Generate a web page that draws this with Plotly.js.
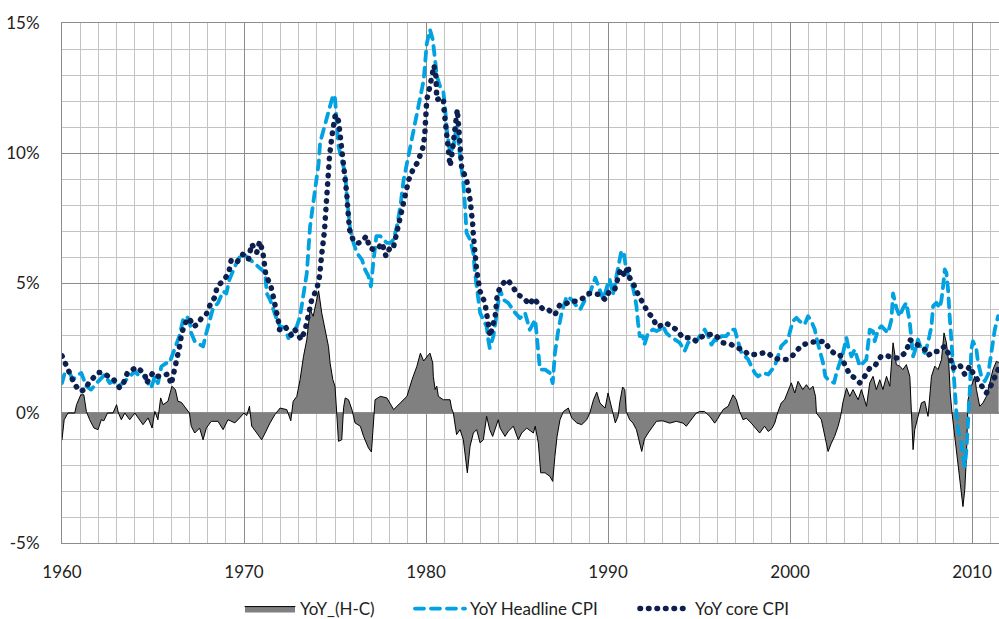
<!DOCTYPE html>
<html>
<head>
<meta charset="utf-8">
<script src="https://cdn.plot.ly/plotly-3.0.1.min.js"></script>
<style>
  html, body { margin: 0; padding: 0; background: #fff; }
  #chart { width: 999px; height: 619px; }
  .js-line { stroke-linecap: round; stroke-linejoin: round; }
</style>
</head>
<body>
<div id="chart"></div>
<script>
// ---- Data ----
const headlineYears = [1960.0,1960.15,1960.42,1960.6,1960.88,1961.06,1961.34,1961.6,1961.9,1962.07,1962.34,1962.62,1962.8,1963.08,1963.35,1963.72,1964.0,1964.27,1964.54,1964.73,1964.9,1965.1,1965.27,1965.46,1965.73,1965.9,1966.1,1966.28,1966.47,1966.65,1966.83,1967.0,1967.1,1967.29,1967.56,1967.75,1967.93,1968.1,1968.3,1968.57,1968.85,1969.03,1969.2,1969.5,1969.76,
1970.0,1970.25,1970.5,1970.8,1971.16,1971.25,1971.43,1971.8,1971.98,1972.26,1972.44,1972.62,1972.9,1973.08,1973.27,1973.45,1973.63,1973.72,1973.9,1974.1,1974.18,1974.37,1974.55,1974.73,1974.9,1975.0,1975.1,1975.19,1975.37,1975.56,1975.65,1975.74,1975.83,1976.02,1976.2,1976.48,1976.66,1976.84,1976.97,1977.12,1977.27,1977.49,1977.67,1977.85,1978.04,1978.22,1978.4,1978.59,1978.77,1978.95,1979.14,1979.32,1979.5,1979.69,1979.87,
1980.04,1980.22,1980.37,1980.5,1980.6,1980.77,1980.95,1981.04,1981.14,1981.32,1981.5,1981.68,1981.77,1981.87,1981.96,1982.05,1982.14,1982.23,1982.42,1982.6,1982.69,1982.82,1982.97,1983.15,1983.33,1983.42,1983.5,1983.7,1983.88,1984.07,1984.25,1984.52,1984.9,1985.16,1985.44,1985.7,1986.0,1986.17,1986.26,1986.54,1986.8,1986.96,1987.08,1987.27,1987.45,1987.73,1988.0,1988.28,1988.46,1988.74,1989.0,1989.3,1989.47,1989.74,
1990.0,1990.09,1990.27,1990.46,1990.6,1990.73,1990.86,1991.0,1991.19,1991.37,1991.47,1991.56,1991.65,1991.74,1991.92,1992.0,1992.2,1992.47,1992.66,1992.84,1993.02,1993.2,1993.39,1993.66,1993.94,1994.21,1994.4,1994.67,1994.85,1995.04,1995.31,1995.5,1995.68,1995.86,1996.04,1996.23,1996.5,1996.78,1996.96,1997.14,1997.33,1997.51,1997.7,1997.87,1998.06,1998.24,1998.52,1998.8,1998.98,1999.16,1999.34,1999.52,1999.7,1999.89,
2000.0,2000.16,2000.35,2000.53,2000.8,2000.99,2001.17,2001.36,2001.45,2001.63,2001.81,2001.94,2002.09,2002.27,2002.42,2002.55,2002.73,2002.91,2003.1,2003.19,2003.37,2003.55,2003.83,2004.0,2004.19,2004.38,2004.56,2004.65,2004.84,2005.02,2005.2,2005.38,2005.57,2005.66,2005.84,2006.03,2006.21,2006.39,2006.58,2006.67,2006.76,2006.85,2007.03,2007.22,2007.4,2007.58,2007.77,2007.86,2008.04,2008.22,2008.32,2008.41,2008.5,2008.59,2008.68,2008.77,2008.86,2008.96,2009.05,2009.14,2009.23,2009.41,2009.5,2009.6,2009.69,2009.78,2009.87,2009.96,2010.05,2010.24,2010.33,2010.51,2010.7,2010.88,2011.06,2011.25,2011.43];
const headlineCPI = [1.15,1.54,1.54,1.28,1.47,1.54,1.03,0.9,1.15,1.28,1.47,1.15,1.22,1.03,1.15,1.41,1.6,1.41,1.41,1.15,0.96,1.41,1.15,1.79,1.92,1.92,2.31,2.56,3.0,3.59,3.72,3.59,3.08,2.76,2.63,2.56,3.08,3.59,4.04,4.23,4.68,4.6,5.13,5.64,6.0,
6.1,5.95,5.8,5.6,5.4,4.6,4.36,3.6,3.33,3.27,2.88,3.08,3.33,3.72,4.5,5.38,7.18,7.7,8.6,9.6,10.4,10.9,11.4,11.9,12.24,12.1,11.3,10.26,9.74,9.23,8.33,7.7,7.05,6.54,6.15,5.9,5.5,5.26,4.87,5.9,6.8,6.8,6.67,6.54,6.54,6.67,7.18,7.95,8.97,9.6,10.26,10.9,11.54,12.18,12.8,
14.2,14.74,14.36,13.6,12.95,12.56,12.37,11.8,10.9,10.0,10.26,11.0,10.5,9.87,9.36,8.85,7.95,6.92,6.67,6.15,5.38,4.6,3.85,3.59,3.33,2.82,2.5,2.95,3.85,4.74,4.36,4.23,3.85,3.65,3.85,3.2,3.59,2.3,1.67,1.67,1.54,1.15,2.3,3.2,3.85,4.49,4.36,4.1,3.97,4.36,4.6,5.2,4.87,4.36,
5.0,5.14,4.56,5.27,5.66,6.23,6.17,5.53,5.14,4.82,4.5,4.11,3.47,2.96,2.96,2.63,3.08,3.21,3.15,3.21,3.34,3.08,2.96,2.83,2.7,2.38,2.7,2.83,2.76,2.96,3.21,2.96,2.63,2.83,2.76,2.96,2.96,3.21,3.21,2.76,2.31,2.19,2.06,1.8,1.54,1.41,1.54,1.48,1.67,1.8,2.19,2.57,2.7,2.83,
3.14,3.53,3.66,3.53,3.4,3.72,3.53,3.21,2.89,2.44,1.93,1.41,1.28,1.22,1.16,1.54,1.93,2.31,2.89,2.57,2.18,2.44,1.8,1.93,2.05,3.21,3.14,2.76,3.21,3.34,3.21,3.08,3.59,4.6,4.04,3.72,4.04,4.24,3.47,2.82,2.18,2.37,2.82,2.44,2.31,2.7,3.34,4.11,4.24,4.04,4.36,4.88,5.52,5.39,4.75,3.72,2.7,1.67,0.77,0.0,-0.64,-1.16,-1.67,-2.05,-1.41,-0.51,0.77,2.44,2.76,2.44,1.93,1.41,1.22,1.48,2.44,3.21,3.72];

const coreYears = [1960.0,1960.26,1960.51,1960.7,1961.0,1961.25,1961.5,1961.8,1962.0,1962.25,1962.5,1962.85,1963.17,1963.4,1963.6,1964.1,1964.55,1964.65,1965.0,1965.27,1965.55,1965.82,1966.0,1966.2,1966.32,1966.47,1966.56,1966.74,1967.0,1967.2,1967.45,1967.66,1967.93,1968.13,1968.4,1968.53,1968.86,1969.16,1969.3,1969.63,1969.93,
1970.24,1970.42,1970.7,1970.86,1971.03,1971.2,1971.34,1971.47,1971.6,1971.76,1971.9,1971.95,1972.26,1972.5,1972.62,1972.8,1973.14,1973.36,1973.72,1974.0,1974.15,1974.27,1974.37,1974.42,1974.46,1974.5,1974.55,1974.6,1974.64,1974.7,1974.83,1975.0,1975.1,1975.2,1975.28,1975.37,1975.47,1975.52,1975.61,1975.65,1975.69,1975.74,1975.8,1976.02,1976.29,1976.48,1976.72,1976.9,1977.16,1977.39,1977.58,1977.8,1977.98,1978.18,1978.31,1978.5,1978.68,1978.86,1979.05,1979.28,1979.5,1979.69,1979.85,1979.93,1979.97,
1980.04,1980.18,1980.31,1980.44,1980.55,1980.59,1980.77,1980.95,1980.99,1981.04,1981.14,1981.32,1981.41,1981.5,1981.65,1981.72,1981.78,1981.87,1981.96,1982.23,1982.42,1982.5,1982.56,1982.6,1982.64,1982.69,1982.78,1982.88,1982.97,1983.24,1983.33,1983.42,1983.52,1983.8,1983.92,1984.16,1984.47,1984.76,1984.98,1985.44,1985.7,1985.9,1986.17,1986.45,1986.72,1987.08,1987.36,1987.63,1987.9,1988.28,1988.64,1988.92,1989.19,1989.56,1989.84,
1990.07,1990.37,1990.68,1990.92,1991.1,1991.19,1991.37,1991.56,1991.74,1991.96,1992.2,1992.47,1992.66,1992.84,1993.11,1993.3,1993.57,1993.75,1994.12,1994.58,1994.85,1995.04,1995.4,1995.86,1996.32,1996.78,1997.05,1997.42,1997.7,1998.15,1998.52,1998.8,1999.07,1999.43,1999.8,
2000.07,2000.26,2000.62,2001.08,2001.54,2001.9,2002.18,2002.45,2002.73,2003.0,2003.28,2003.55,2003.83,2004.1,2004.38,2004.65,2005.0,2005.3,2005.66,2006.03,2006.39,2006.58,2006.85,2007.12,2007.4,2007.58,2007.86,2008.13,2008.5,2008.77,2008.96,2009.32,2009.6,2009.87,2010.05,2010.33,2010.6,2010.79,2011.06,2011.25,2011.43];
const coreCPI = [2.2,1.83,1.47,1.09,0.83,0.9,1.19,1.45,1.56,1.54,1.41,1.28,0.96,1.19,1.56,1.76,1.5,1.15,1.56,1.41,1.44,1.5,1.1,1.69,2.15,2.59,3.0,3.44,3.65,3.33,3.4,3.65,3.8,4.15,4.46,4.88,5.08,5.38,5.9,5.82,6.1,
5.9,6.5,6.17,6.6,6.2,5.3,5.06,4.9,4.5,4.04,3.5,3.2,3.33,3.08,2.97,3.2,2.82,3.2,4.36,4.77,5.26,6.1,6.54,7.0,7.44,7.9,8.4,8.85,9.3,9.9,10.64,11.41,11.47,11.2,10.7,10.2,9.74,9.3,8.85,8.4,7.95,7.5,7.05,6.6,6.54,6.6,6.8,6.35,6.28,6.35,6.54,6.03,6.3,6.28,6.67,7.18,7.95,8.46,8.97,9.36,9.6,9.94,10.26,10.7,11.4,
12.05,12.46,12.92,13.36,12.92,12.05,12.1,12.1,11.67,11.28,10.5,9.5,9.87,10.58,11.28,11.67,11.28,10.32,9.42,8.97,8.2,7.8,7.3,6.86,6.4,5.96,5.5,5.06,4.68,4.23,3.85,3.33,2.95,3.72,4.6,4.94,5.13,4.87,4.6,4.36,4.17,4.42,4.17,3.97,3.97,3.78,4.17,4.17,4.3,4.3,4.42,4.6,4.6,4.55,4.36,
4.68,4.76,5.53,5.27,5.66,5.2,5.01,4.69,4.43,4.11,3.86,3.66,3.34,3.34,3.47,3.41,3.28,3.21,2.89,2.89,2.76,2.89,3.02,3.02,2.7,2.63,2.51,2.44,2.25,2.25,2.31,2.31,2.12,2.06,2.06,
2.15,2.31,2.59,2.72,2.72,2.76,2.44,2.28,2.25,1.9,1.48,1.35,1.16,1.41,1.73,1.8,2.18,2.21,2.12,2.12,2.37,2.82,2.72,2.57,2.44,2.21,2.37,2.37,2.57,2.18,1.73,1.86,1.48,1.8,1.54,1.22,0.9,0.77,1.09,1.41,1.67];

const gapYears = [1960.0,1960.12,1960.33,1960.7,1960.8,1961.03,1961.2,1961.34,1961.52,1961.76,1961.98,1962.16,1962.3,1962.5,1962.8,1963.0,1963.1,1963.26,1963.45,1963.72,1964.0,1964.2,1964.45,1964.73,1964.95,1965.1,1965.27,1965.42,1965.55,1965.82,1966.04,1966.23,1966.37,1966.56,1966.83,1967.0,1967.1,1967.29,1967.56,1967.75,1967.93,1968.2,1968.57,1968.85,1969.12,1969.5,1969.76,
1970.0,1970.15,1970.3,1970.42,1970.7,1970.97,1971.16,1971.43,1971.7,1971.98,1972.35,1972.57,1972.7,1972.9,1973.08,1973.27,1973.45,1973.63,1973.8,1974.0,1974.1,1974.27,1974.46,1974.64,1974.73,1974.88,1975.0,1975.1,1975.19,1975.37,1975.47,1975.56,1975.74,1975.93,1976.1,1976.39,1976.57,1976.84,1977.0,1977.1,1977.2,1977.49,1977.85,1978.22,1978.59,1978.95,1979.23,1979.5,1979.69,1979.87,
1980.13,1980.22,1980.37,1980.4,1980.5,1980.59,1980.68,1980.95,1981.32,1981.4,1981.5,1981.6,1981.68,1981.87,1982.05,1982.27,1982.42,1982.6,1982.78,1982.97,1983.15,1983.33,1983.5,1983.66,1983.97,1984.07,1984.34,1984.52,1984.8,1985.07,1985.26,1985.53,1985.9,1986.0,1986.17,1986.3,1986.54,1986.81,1986.96,1987.08,1987.2,1987.36,1987.55,1987.82,1988.0,1988.28,1988.55,1988.83,1989.0,1989.2,1989.38,1989.56,1989.84,
1990.0,1990.2,1990.4,1990.55,1990.64,1990.8,1990.92,1991.0,1991.19,1991.37,1991.56,1991.85,1992.0,1992.2,1992.5,1992.66,1993.0,1993.39,1993.75,1994.12,1994.3,1994.58,1994.85,1995.04,1995.3,1995.59,1995.86,1996.0,1996.32,1996.6,1996.87,1997.05,1997.23,1997.42,1997.6,1997.87,1998.15,1998.33,1998.6,1998.8,1999.0,1999.16,1999.34,1999.52,1999.7,1999.9,
2000.07,2000.26,2000.44,2000.7,2000.9,2001.08,2001.26,2001.4,2001.45,2001.72,2001.9,2002.09,2002.27,2002.45,2002.64,2002.78,2002.9,2003.1,2003.28,2003.46,2003.74,2003.92,2004.2,2004.38,2004.56,2004.74,2004.93,2005.1,2005.3,2005.48,2005.66,2005.84,2006.03,2006.2,2006.39,2006.58,2006.67,2006.76,2006.85,2007.03,2007.22,2007.4,2007.58,2007.77,2007.95,2008.13,2008.32,2008.46,2008.59,2008.72,2008.8,2008.9,2009.05,2009.2,2009.32,2009.41,2009.5,2009.6,2009.69,2009.78,2009.96,2010.15,2010.24,2010.42,2010.6,2010.79,2010.97,2011.15,2011.34,2011.46];
const gapHC = [-1.03,-0.26,0,0,0.32,0.7,0.7,0.06,-0.26,-0.58,-0.64,-0.26,-0.3,0,0,0.32,0,-0.26,0,-0.26,0,-0.2,-0.45,-0.19,-0.58,0.06,-0.26,0.58,0.32,0.45,1.03,0.9,0.45,0.41,0.13,0,-0.51,-0.77,-0.58,-1.03,-0.58,-0.32,-0.32,-0.64,-0.26,-0.38,-0.19,
0,-0.1,0.26,-0.5,-0.77,-1.03,-0.77,-0.38,-0.06,0.19,0.13,-0.3,0.45,0.64,1.28,2.18,2.82,3.97,3.72,4.36,4.7,3.85,3.2,2.56,1.92,1.28,1.03,0.0,-1.09,-1.03,0.2,0.58,0.51,0.13,-0.38,-0.51,-0.9,-1.35,-1.5,-0.5,0.51,0.64,0.58,0.13,0.38,0.64,1.28,1.8,2.3,2.0,
2.24,2.3,1.92,1.41,0.9,1.03,0.64,0.51,0.51,0.19,0,-0.51,-0.83,-0.64,-1.03,-2.3,-1.28,-0.77,-0.64,-1.15,-1.03,-0.13,-0.64,-0.9,-0.26,-0.58,-0.9,-0.7,-0.51,-1.03,-0.77,-0.58,-0.77,-0.51,-1.15,-2.3,-2.3,-2.44,-2.63,-1.67,-0.9,-0.26,0.06,0.19,-0.19,-0.38,-0.45,-0.26,0,0.51,0.8,0.38,0.19,
0.77,0.2,-0.38,-0.13,0.39,1.0,0.9,0.06,-0.26,-0.39,-0.64,-1.48,-1.0,-0.77,-0.5,-0.32,-0.3,-0.39,-0.32,-0.39,-0.51,-0.26,0,0.06,0.06,-0.13,-0.39,-0.25,0.13,0.26,0.7,0.51,0.06,-0.26,-0.2,-0.39,-0.64,-0.77,-0.51,-0.71,-0.6,-0.39,0.06,0.39,0.51,0.9,
1.16,0.77,1.22,0.9,1.09,0.9,1.03,0.64,0,-0.26,-0.9,-1.48,-1.16,-0.9,-0.51,-0.13,0.39,0.96,0.64,0.9,0.51,0.9,0.26,1.16,1.41,0.9,1.28,0.9,1.41,1.03,2.7,1.86,1.8,1.67,1.86,1.41,0,-1.41,-0.64,-0.13,0.39,0.45,-0.13,1.41,1.8,1.67,2.05,3.08,2.7,1.93,0.77,0,-0.9,-1.93,-2.57,-3.08,-3.6,-2.95,-1.67,0.51,1.03,1.41,0.9,0.26,0.39,0.64,1.16,1.67,1.99,1.93];

const seriesNames = ['YoY_(H-C)', 'YoY Headline CPI', 'YoY core CPI'];
const yTickValues = [-5, 0, 5, 10, 15];
const yTickLabels = ['-5%', '0%', '5%', '10%', '15%'];

// ---- Chart ----
const FONT = 'Lato, "Open Sans", sans-serif';
const traces = [
  {
    x: gapYears, y: gapHC, name: seriesNames[0], type: 'scatter', mode: 'lines',
    fill: 'tozeroy', fillcolor: '#808080',
    line: { color: '#000000', width: 1 },
    legendwidth: 105
  },
  {
    x: headlineYears, y: headlineCPI, name: seriesNames[1], type: 'scatter', mode: 'lines',
    line: { color: '#00a2e1', width: 3.8, dash: '9px,7px' },
    legendwidth: 160
  },
  {
    x: coreYears, y: coreCPI, name: seriesNames[2], type: 'scatter', mode: 'lines',
    line: { color: '#0c1f4e', width: 5.5, dash: '0.5px,8px' },
    legendwidth: 110
  }
];

const layout = {
  width: 999, height: 619,
  margin: { l: 62, r: 0, t: 23, b: 76, pad: 0, autoexpand: false },
  paper_bgcolor: '#ffffff', plot_bgcolor: '#ffffff',
  font: { family: FONT, size: 17, color: '#222222' },
  showlegend: true,
  legend: {
    orientation: 'h', x: (240 - 62) / 937, xanchor: 'left', y: -0.127, yanchor: 'middle',
    font: { family: FONT, size: 17, color: '#222222' },
    traceorder: 'normal', itemwidth: 50
  },
  xaxis: {
    type: 'linear', range: [1960, 2011.48], dtick: 10, tick0: 1960,
    showgrid: true, gridcolor: '#8c8c8c', gridwidth: 1,
    minor: { dtick: 1, tick0: 1960, showgrid: true, gridcolor: '#c3c3c3', gridwidth: 1 },
    showline: true, linecolor: '#8c8c8c', linewidth: 1, mirror: true,
    zeroline: false, ticks: '', ticklabelstandoff: 14,
    tickfont: { family: FONT, size: 17, color: '#222222' }
  },
  yaxis: {
    range: [-5, 15], tickmode: 'array', tickvals: yTickValues, ticktext: yTickLabels,
    showgrid: true, gridcolor: '#8c8c8c', gridwidth: 1,
    minor: { tickmode: 'linear', tick0: 0, dtick: 1, showgrid: true, gridcolor: '#c3c3c3', gridwidth: 1 },
    showline: true, linecolor: '#8c8c8c', linewidth: 1,
    zeroline: true, zerolinecolor: '#8c8c8c', zerolinewidth: 2,
    ticks: '', ticklabelstandoff: 18,
    tickfont: { family: FONT, size: 17, color: '#222222' }
  }
};

Plotly.newPlot('chart', traces, layout, { staticPlot: true, displayModeBar: false });
</script>
</body>
</html>
